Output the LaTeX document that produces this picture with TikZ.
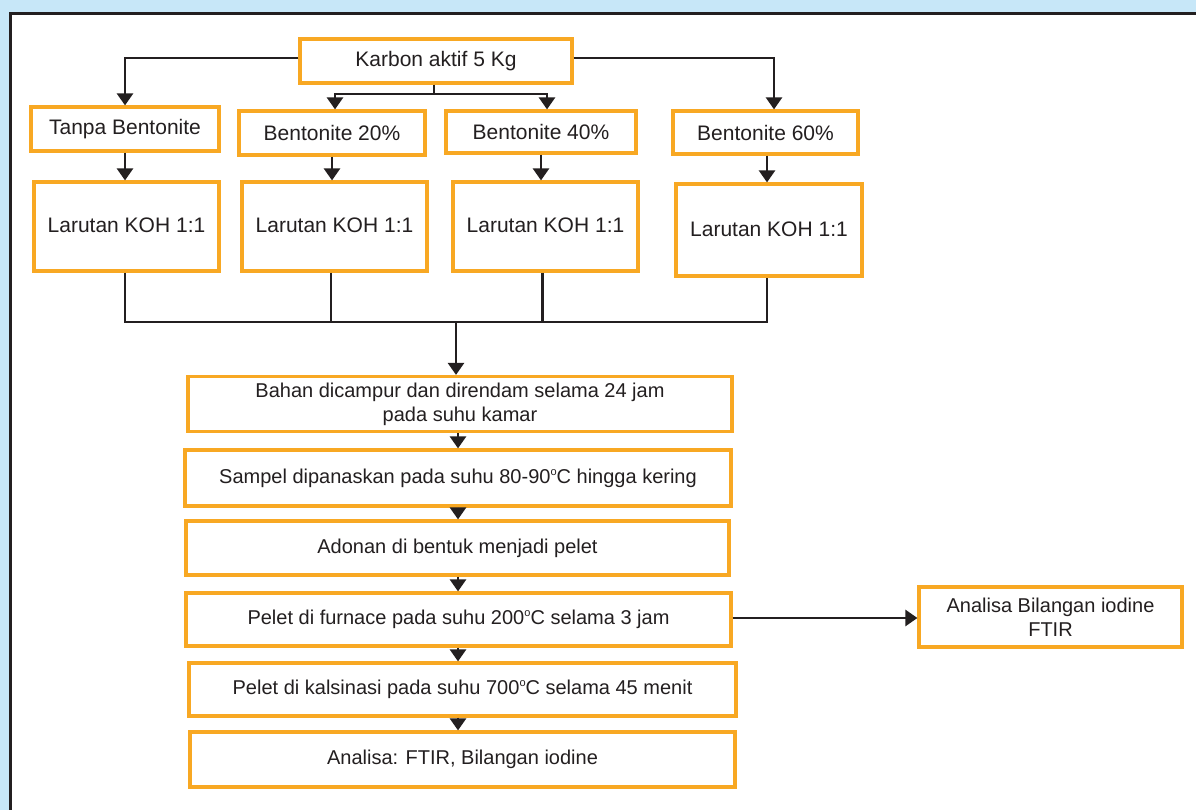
\documentclass[tikz,border=0pt]{standalone}
\usepackage{fontspec}
\setmainfont{Liberation Sans}
\usetikzlibrary{arrows.meta}
\definecolor{bgblue}{HTML}{C7E7F8}
\definecolor{boxorange}{HTML}{F8A823}
\definecolor{ink}{HTML}{231F20}
\newcommand{\degsup}{\raisebox{0.75ex}{\fontsize{11}{11}\selectfont o}}
\begin{document}
\begin{tikzpicture}[x=1pt,y=-1pt,
  basebox/.style={draw=boxorange, line width=3.2pt, fill=white, inner sep=0pt, align=center, text=ink},
  topbox/.style={basebox, font=\fontsize{21}{25}\selectfont},
  lowbox/.style={basebox, font=\fontsize{20}{24}\selectfont},
  conn/.style={draw=ink, line width=2.6pt},
  arr/.style={conn, -{Triangle[width=16pt,length=12pt]}}]
\useasboundingbox (0,0) rectangle (1196,810);
\fill[bgblue] (0,0) rectangle (1196,810);
\fill[white] (10,13.5) rectangle (1200,815);
\draw[ink, line width=3pt] (10,815) -- (10,13.5) -- (1200,13.5);

% top boxes
\node[topbox, minimum width=272pt, minimum height=44pt] (karbon) at (436,61) {Karbon aktif 5 Kg};
\node[topbox, minimum width=188pt, minimum height=44pt] (tanpa) at (125,129) {Tanpa Bentonite};
\node[topbox, minimum width=186pt, minimum height=44pt] (b20) at (332,133) {Bentonite 20\%};
\node[topbox, minimum width=190pt, minimum height=42pt] (b40) at (541,132) {Bentonite 40\%};
\node[topbox, minimum width=185pt, minimum height=43pt] (b60) at (765.5,132.5) {Bentonite 60\%};
\node[topbox, minimum width=185pt, minimum height=89pt] (lar1) at (126.5,226.5) {\raisebox{2pt}{Larutan KOH 1:1}};
\node[topbox, minimum width=185pt, minimum height=89pt] (lar2) at (334.5,226.5) {\raisebox{2pt}{Larutan KOH 1:1}};
\node[topbox, minimum width=185pt, minimum height=89pt] (lar3) at (545.5,226.5) {\raisebox{2pt}{Larutan KOH 1:1}};
\node[topbox, minimum width=186pt, minimum height=92pt] (lar4) at (769,230) {\raisebox{2pt}{Larutan KOH 1:1}};

% lower boxes
\node[lowbox, minimum width=544pt, minimum height=55pt] (bahan) at (460,404) {Bahan dicampur dan direndam selama 24 jam\\pada suhu kamar};
\node[lowbox, minimum width=546pt, minimum height=56pt] (sampel) at (458,478) {Sampel dipanaskan pada suhu 80-90\degsup C hingga kering};
\node[lowbox, minimum width=543pt, minimum height=54pt] (adonan) at (457.5,548) {Adonan di bentuk menjadi pelet};
\node[lowbox, minimum width=545pt, minimum height=53pt] (furnace) at (458.5,619.5) {Pelet di furnace pada suhu 200\degsup C selama 3 jam};
\node[lowbox, minimum width=547pt, minimum height=53pt] (kalsinasi) at (462.5,689.5) {Pelet di kalsinasi pada suhu 700\degsup C selama 45 menit};
\node[lowbox, minimum width=545pt, minimum height=55pt] (analisa) at (462.5,759.5) {Analisa: FTIR, Bilangan iodine};
\node[lowbox, minimum width=263pt, minimum height=60pt] (ftir) at (1050.5,617) {Analisa Bilangan iodine\\FTIR};

% connectors top
\draw[arr] (karbon.west |- 0,58) -| (tanpa.north);
\draw[arr] (karbon.east |- 0,58) -| ([xshift=8.5pt]b60.north);
\coordinate (j1) at (434,94);
\draw[conn] (434,0 |- karbon.south) -- (j1);
\draw[arr] (j1) -| ([xshift=3pt]b20.north);
\draw[arr] (j1) -| ([xshift=6pt]b40.north);
\draw[arr] (tanpa.south) -- (tanpa.south |- lar1.north);
\draw[arr] (b20.south) -- (b20.south |- lar2.north);
\draw[arr] (b40.south) -- (b40.south |- lar3.north);
\draw[arr] ([xshift=1.5pt]b60.south) -- ([xshift=1.5pt]b60.south |- lar4.north);

% collector
\coordinate (bus) at (456,322);
\draw[conn] ([xshift=-1.5pt]lar1.south) -- ([xshift=-1.5pt]lar1.south |- bus) -- ([xshift=-2pt]lar4.south |- bus) -- ([xshift=-2pt]lar4.south);
\draw[conn] ([xshift=-3.5pt]lar2.south) -- ([xshift=-3.5pt]lar2.south |- bus);
\draw[conn] ([xshift=-3pt]lar3.south) -- ([xshift=-3pt]lar3.south |- bus);
\draw[arr] (bus) -- (bus |- bahan.north);

% lower chain
\draw[arr] (458,0 |- bahan.south) -- (458,0 |- sampel.north);
\draw[arr] (458,0 |- sampel.south) -- (458,0 |- adonan.north);
\draw[arr] (458,0 |- adonan.south) -- (458,0 |- furnace.north);
\draw[arr] (458,0 |- furnace.south) -- (458,0 |- kalsinasi.north);
\draw[arr] (458,0 |- kalsinasi.south) -- (458,0 |- analisa.north);
\draw[arr] (furnace.east |- 0,618) -- (ftir.west |- 0,618);
\end{tikzpicture}
\end{document}
